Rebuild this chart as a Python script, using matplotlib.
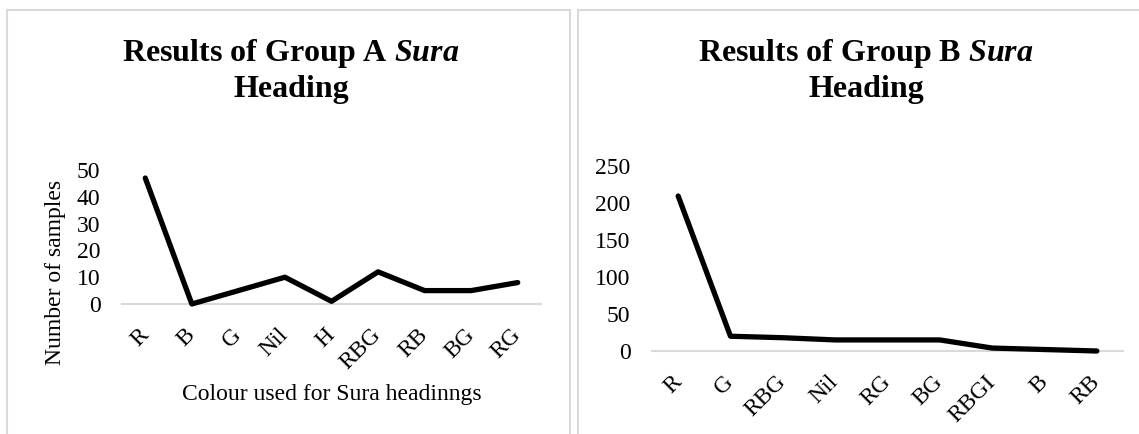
import matplotlib
matplotlib.use('Agg')
import matplotlib.pyplot as plt
from matplotlib.patches import Rectangle

plt.rcParams['font.family'] = ['Liberation Serif', 'DejaVu Serif']
plt.rcParams['mathtext.fontset'] = 'custom'
plt.rcParams['mathtext.rm'] = 'Liberation Serif:bold'
plt.rcParams['mathtext.it'] = 'Liberation Serif:italic:bold'
plt.rcParams['mathtext.bf'] = 'Liberation Serif:bold'

# Group A: samples per heading colour
CATS_A = ['R', 'B', 'G', 'Nil', 'H', 'RBG', 'RB', 'BG', 'RG']
COUNTS_A = [47, 0, 5, 10, 1, 12, 5, 5, 8]
YTICKS_A = [0, 10, 20, 30, 40, 50]

# Group B: samples per heading colour
CATS_B = ['R', 'G', 'RBG', 'Nil', 'RG', 'BG', 'RBGI', 'B', 'RB']
COUNTS_B = [210, 20, 18, 15, 15, 15, 4, 2, 0]
YTICKS_B = [0, 50, 100, 150, 200, 250]

W, H = 1139, 434
DPI = 100
GRID = '#d9d9d9'
FS = 17


def px_box(left, top, right, bottom):
    # pixel rectangle -> figure fraction [x, y, w, h]
    return [left / W, 1 - bottom / H, (right - left) / W, (bottom - top) / H]


def draw_panel(fig, rect, title_x, group):
    l, t, r, b = rect
    fig.add_artist(Rectangle((l / W, 1 - b / H), (r - l) / W, (b - t) / H,
                             transform=fig.transFigure, fill=False,
                             ec=GRID, lw=1.5))
    fig.text(title_x / W, 1 - 60.7 / H,
             rf'Results of Group {group} $\mathit{{Sura}}$',
             ha='center', va='baseline', fontsize=23, fontweight='bold')
    fig.text(title_x / W, 1 - 97.3 / H, 'Heading',
             ha='center', va='baseline', fontsize=23, fontweight='bold')


def draw_chart(ax, cats, counts, yticks):
    x = range(len(cats))
    ax.plot(x, counts, color='black', lw=3.8, solid_capstyle='round',
            solid_joinstyle='round', clip_on=False, zorder=3)
    ax.set_xlim(-0.5, len(cats) - 0.5)
    ax.set_ylim(yticks[0], yticks[-1])
    ax.set_yticks(yticks)
    ax.set_xticks(list(x))
    ax.set_xticklabels(cats, rotation=45, ha='right', va='center',
                       rotation_mode='anchor', fontsize=FS)
    ax.tick_params(axis='both', length=0, labelsize=FS)
    ax.tick_params(axis='y', pad=15.5)
    ax.tick_params(axis='x', pad=20)
    for side in ('top', 'right', 'left'):
        ax.spines[side].set_visible(False)
    ax.spines['bottom'].set_color(GRID)
    ax.spines['bottom'].set_linewidth(1.5)
    ax.set_facecolor('none')


fig = plt.figure(figsize=(W / DPI, H / DPI), dpi=DPI)

draw_panel(fig, (7, 9.5, 570, 460), 291, 'A')
draw_panel(fig, (578, 9.5, 1160, 460), 866, 'B')

ax_a = fig.add_axes(px_box(122, 170, 541, 304))
draw_chart(ax_a, CATS_A, COUNTS_A, YTICKS_A)
ax_a.set_ylabel('Number of samples', fontsize=FS)
ax_a.yaxis.set_label_coords((55 - 122) / 419, (304 - 272) / 134)
ax_a.set_xlabel('Colour used for Sura headinngs', fontsize=FS)
ax_a.xaxis.set_label_coords(0.5, -(395 - 304) / 134)
ax_a.xaxis.label.set_va('center')
ax_a.yaxis.label.set_va('center')

ax_b = fig.add_axes(px_box(652, 166.5, 1123, 351))
draw_chart(ax_b, CATS_B, COUNTS_B, YTICKS_B)

fig.savefig('out.png', dpi=DPI, facecolor='white')
